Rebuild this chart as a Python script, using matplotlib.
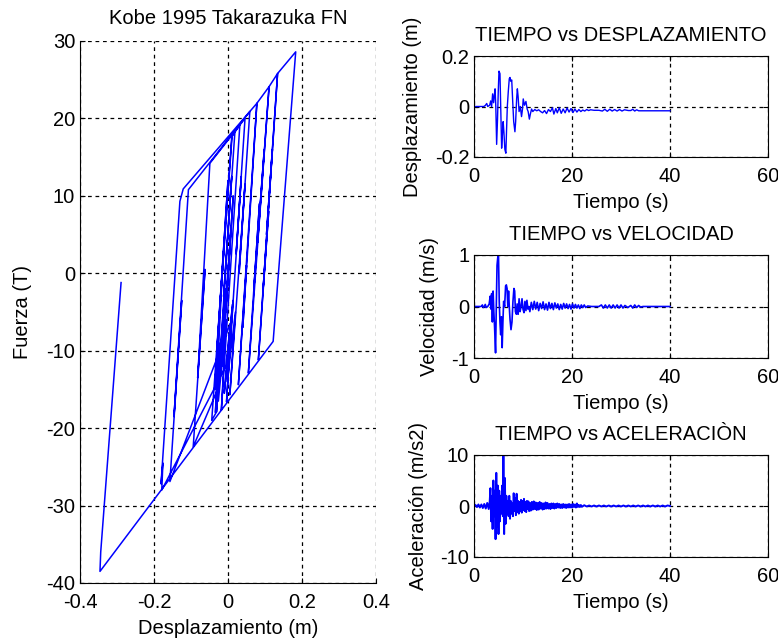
import numpy as np
import matplotlib
matplotlib.use("Agg")
import matplotlib.pyplot as plt

# hysteresis vertices (m, T)
hyst_x = [0.000, 0.008, -0.006, 0.014, -0.016, 0.006, -0.031, -0.044, 0.010, 0.019,
          -0.012, 0.010, -0.031, -0.025, -0.034, -0.015, -0.036, -0.010, -0.030, 0.000,
          -0.020, 0.011, 0.032, -0.018, -0.005, -0.026, -0.008, -0.028, -0.094, -0.062,
          -0.082, -0.049, 0.046, 0.022, 0.036, -0.004, 0.012, -0.010, 0.006, -0.157,
          -0.125, -0.146, -0.107, 0.059, 0.030, 0.046, 0.005, 0.020, -0.002, 0.014,
          -0.006, -0.179, -0.176, -0.181, -0.130, -0.121, 0.078, 0.028, 0.050, 0.040,
          0.078, 0.111, 0.055, 0.085, 0.070, 0.098, 0.080, 0.111, 0.134, 0.082,
          0.110, 0.095, 0.120, 0.104, 0.134, 0.183, 0.122, -0.346, -0.344, -0.289]
hyst_y = [0.0, 6.0, -5.0, 10.0, -12.0, 4.0, -17.9, -19.0, 17.6, 18.5,
          -3.0, 12.5, -17.9, -9.0, -18.0, 0.5, -15.0, 4.0, -10.0, 12.0,
          -3.0, 17.7, 19.15, -17.7, -6.0, -16.5, -2.0, -15.0, -22.4, 0.5,
          -13.5, 14.2, 20.0, 2.5, 12.5, -16.6, -4.0, -15.5, -6.5, -26.9,
          -3.5, -18.5, 10.8, 20.9, 0.0, 11.5, -15.7, -5.0, -14.0, -3.5,
          -12.0, -28.0, -24.5, -27.2, 9.3, 10.9, 21.95, -14.4, 1.0, -7.0,
          21.95, 24.1, -12.9, 9.0, -2.0, 16.0, 4.0, 24.1, 25.8, -11.2,
          8.0, -2.0, 16.0, 5.0, 25.8, 28.6, -8.8, -38.5, -36.0, -1.2]

# displacement (m) vs time (s)
t_disp = [0, 2.0, 2.3, 2.6, 2.8, 3.2, 3.4, 3.6, 3.8, 4.0, 4.15, 4.3, 4.45, 4.62, 4.8,
          4.95, 5.1, 5.3, 5.45, 5.64, 5.8, 5.95, 6.1, 6.3, 6.5, 6.65, 6.8, 7.0, 7.2,
          7.35, 7.5, 7.7, 7.9, 8.1, 8.35, 8.5, 8.7, 8.85, 9.0, 9.2, 9.45, 9.7, 9.9,
          10.05, 10.3, 10.6, 10.85, 11.05, 11.3, 11.5, 11.75, 12.0, 12.4, 12.8, 13.2,
          13.6, 14.0, 14.4, 14.8, 15.2, 15.6, 16.0, 16.3, 16.7, 17.0, 17.4, 17.8,
          18.2, 18.6, 19.0, 19.4, 19.8, 20.2, 20.6, 21.0, 21.4, 21.8, 22.2, 22.6,
          23.0, 23.4, 23.8, 24.5, 25.5, 26.2, 26.7, 27.2, 27.7, 28.2, 28.7, 29.2,
          29.7, 30.2, 30.7, 31.5, 32.0, 32.4, 32.8, 33.2, 33.6, 34.5, 40.0]
disp = [0, 0, 0.004, 0.012, 0.0, 0.005, 0.022, 0.0, 0.05, 0.015, 0.045, 0.07, 0.0, -0.15, -0.05,
        0.06, 0.14, 0.13, 0.0, -0.165, -0.11, -0.06, -0.10, -0.17, -0.185, -0.09, 0.0, 0.06, 0.11,
        0.115, 0.10, 0.105, 0.02, -0.06, -0.10, -0.06, 0.03, 0.07, 0.04, -0.02, 0.0, -0.04, -0.01,
        0.03, 0.005, 0.02, -0.01, -0.02, -0.05, -0.03, -0.01, -0.02, -0.012, -0.017, -0.013,
        -0.02, -0.025, -0.016, -0.028, -0.012, -0.02, -0.005, -0.03, -0.008, -0.025, -0.005, -0.027,
        -0.01, -0.025, -0.006, -0.022, -0.008, -0.024, -0.01, -0.022, -0.012, -0.02, -0.014, -0.018,
        -0.012, -0.016, -0.013, -0.015, -0.015, -0.018, -0.011, -0.019, -0.011, -0.018, -0.012, -0.018,
        -0.012, -0.018, -0.013, -0.016, -0.016, -0.011, -0.018, -0.013, -0.017, -0.017, -0.017]

# velocity (m/s)
t_vel = [0, 1.5, 1.7, 1.9, 2.1, 2.3, 2.5, 2.8, 3.1, 3.3, 3.45, 3.6, 3.75, 3.9, 4.05, 4.2,
         4.4, 4.55, 4.7, 4.85, 5.0, 5.15, 5.3, 5.45, 5.6, 5.75, 5.9, 6.05, 6.25, 6.45, 6.6,
         6.75, 6.9, 7.05, 7.2, 7.35, 7.55, 7.75, 7.95, 8.15, 8.3, 8.45, 8.65, 8.8, 9.0, 9.2,
         9.4, 9.6, 9.8, 10.0, 10.2, 10.4, 10.6, 10.8, 11.0, 11.2, 11.4, 11.7, 12.0, 12.3,
         12.6, 12.9, 13.2, 13.5, 13.8, 14.1, 14.4, 14.7, 15.0, 15.3, 15.6, 15.9, 16.2, 16.5,
         16.8, 17.1, 17.4, 17.7, 18.0, 18.3, 18.6, 18.9, 19.2, 19.5, 19.8, 20.1, 20.4, 20.7,
         21.0, 21.3, 21.6, 21.9, 22.2, 22.5, 22.8, 23.2, 24.0, 25.5, 26.0, 26.4, 26.8, 27.2,
         27.6, 28.0, 28.4, 28.8, 29.2, 29.6, 30.0, 30.4, 30.8, 31.4, 32.0, 32.4, 32.8, 33.2,
         33.6, 34.0, 34.5, 40.0]
vel = [0, 0, 0.03, -0.02, 0.0, 0.04, -0.02, 0.0, 0.05, 0.2, -0.05, 0.25, -0.3, 0.3, -0.1, -0.4,
       -0.9, 0.0, 0.8, 0.95, 1.0, 0.1, -0.3, -0.55, -0.2, -0.8, -0.3, 0.1, 0.0, 0.4, 0.42,
       0.35, 0.0, 0.3, 0.0, -0.25, -0.45, -0.3, 0.1, 0.35, 0.3, -0.1, -0.15, 0.05, -0.15, 0.15,
       -0.1, 0.0, 0.15, -0.05, -0.12, 0.1, -0.08, 0.12, -0.05, 0.0, -0.1, 0.08, -0.06, 0.1,
       -0.05, 0.08, -0.08, 0.06, -0.04, 0.09, -0.06, 0.05, -0.07, 0.08, -0.04, 0.06, -0.06, 0.07,
       -0.03, 0.05, -0.06, 0.04, -0.05, 0.06, -0.03, 0.05, -0.04, 0.04, -0.05, 0.05, -0.03, 0.04,
       -0.03, 0.03, -0.04, 0.03, -0.02, 0.03, -0.02, 0.01, 0.0, 0.0, 0.03, -0.03, 0.03, -0.03,
       0.03, -0.03, 0.03, -0.03, 0.03, -0.03, 0.03, -0.03, 0.02, -0.02, 0.02, -0.03, 0.03, -0.02,
       0.02, -0.01, 0.0, 0.0]

# acceleration (m/s2)
t_acc = [0, 0.3, 0.6, 0.9, 1.2, 1.5, 1.8, 2.1, 2.4, 2.7, 3.0, 3.2, 3.35, 3.5, 3.65, 3.8, 3.95,
         4.1, 4.25, 4.4, 4.55, 4.7, 4.85, 5.0, 5.15, 5.3, 5.45, 5.6, 5.75, 5.9, 6.0, 6.15, 6.3,
         6.45, 6.6, 6.75, 6.9, 7.05, 7.2, 7.35, 7.5, 7.65, 7.8, 7.95, 8.1, 8.25, 8.4, 8.55, 8.7,
         8.85, 9.0, 9.15, 9.3, 9.45, 9.6, 9.75, 9.9, 10.05, 10.2, 10.35, 10.5, 10.65, 10.8, 10.95,
         11.1, 11.25, 11.4, 11.6, 11.8, 12.0, 12.2, 12.4, 12.6, 12.8, 13.0, 13.2, 13.4, 13.6,
         13.8, 14.0, 14.2, 14.4, 14.6, 14.8, 15.0, 15.2, 15.4, 15.6, 15.8, 16.0, 16.2, 16.4,
         16.6, 16.8, 17.0, 17.2, 17.4, 17.6, 17.8, 18.0, 18.2, 18.4, 18.6, 18.8, 19.0, 19.2,
         19.4, 19.6, 19.8, 20.0, 20.2, 20.4, 20.6, 20.8, 21.0, 21.2, 21.4, 21.6, 21.8, 22.0,
         22.5, 23.0, 23.5, 24.0, 24.5, 25.0, 25.5, 26.0, 26.5, 27.0, 27.5, 28.0, 28.5, 29.0,
         29.5, 30.0, 30.5, 31.0, 31.5, 32.0, 32.5, 33.0, 33.5, 34.0, 34.5, 35.0, 35.5, 36.0,
         36.5, 37.0, 37.5, 38.0, 38.5, 39.0, 39.5, 40.0]
acc = [0, 0.2, -0.2, 0.3, -0.3, 0.3, -0.4, 0.4, -0.5, 0.6, -0.6, 0.8, 3.5, -3.0, 2.0, -4.5, 5.0,
       -2.0, 3.0, -6.5, 6.5, -4.0, 4.0, -5.5, 3.0, -3.0, 2.0, -1.5, 4.0, -2.0, 9.8, -5.5, 5.5,
       -3.5, 2.0, -1.5, 1.0, -2.0, 2.0, -2.5, 1.0, -1.5, 0.5, -2.0, 2.5, -1.0, 1.5, -1.8, 2.4,
       -1.2, 1.0, -1.5, 0.8, -1.0, 1.2, -1.3, 1.0, -0.8, 1.4, -1.0, 0.8, -1.2, 1.0, -0.6,
       0.9, -1.0, 0.6, -0.9, 0.8, -0.7, 0.9, -0.6, 0.7, -0.8, 0.6, -0.7, 0.8, -0.5,
       0.6, -0.7, 0.5, -0.6, 0.7, -0.5, 0.6, -0.5, 0.4, -0.6, 0.5, -0.4, 0.5, -0.5,
       0.4, -0.4, 0.5, -0.3, 0.4, -0.4, 0.3, -0.4, 0.4, -0.3, 0.3, -0.4, 0.3, -0.3,
       0.4, -0.3, 0.3, -0.3, 0.4, -0.2, 0.3, -0.3, 0.5, -0.2, 0.2, -0.2, 0.2, -0.15,
       0.15, -0.1, 0.1, -0.1, 0.1, -0.1, 0.1, -0.1, 0.1, -0.1, 0.1, -0.1, 0.1, -0.1,
       0.1, -0.1, 0.1, -0.1, 0.1, -0.1, 0.1, -0.1, 0.1, -0.1, 0.1, -0.1, 0.1, -0.1,
       0.1, -0.1, 0.1, -0.1, 0.1, -0.1, 0.1, 0.0]

plt.rcParams['font.family'] = ['Liberation Sans', 'DejaVu Sans']
plt.rcParams['font.size'] = 14.5
plt.rcParams['axes.titlesize'] = 14.5
plt.rcParams['axes.unicode_minus'] = False
plt.rcParams['xtick.direction'] = 'in'
plt.rcParams['ytick.direction'] = 'in'
plt.rcParams['xtick.major.pad'] = 7

W, H = 778, 642
fig = plt.figure(figsize=(W / 100, H / 100), dpi=100)


def box(x0, y0, x1, y1):
    # pixel box (top-left origin) -> figure fraction
    return [x0 / W, 1 - y1 / H, (x1 - x0) / W, (y1 - y0) / H]


grid_kw = dict(color='k', linestyle=(0, (3, 3)), linewidth=0.9)

# hysteresis loop
ax = fig.add_axes(box(80, 41, 376, 583))
ax.plot(hyst_x, hyst_y, color='b', linewidth=1.1)
ax.set_xlim(-0.4, 0.4)
ax.set_ylim(-40, 30)
ax.set_xticks([-0.4, -0.2, 0, 0.2, 0.4])
ax.set_xticklabels(['-0.4', '-0.2', '0', '0.2', '0.4'])
ax.set_yticks(np.arange(-40, 31, 10))
ax.grid(True, **grid_kw)
ax.spines['top'].set_visible(False)
ax.spines['right'].set_visible(False)
ax.set_xlabel('Desplazamiento (m)', labelpad=5)
ax.set_ylabel('Fuerza (T)', labelpad=10)
ax.set_title('Kobe 1995 Takarazuka FN', pad=12)

panels = [
    (box(474, 56, 768, 157), t_disp, disp, 0.2, 'Desplazamiento (m)',
     'TIEMPO vs DESPLAZAMIENTO', 1.0),
    (box(474, 255, 768, 358), t_vel, vel, 1, 'Velocidad (m/s)',
     'TIEMPO vs VELOCIDAD', 1.2),
    (box(474, 455, 768, 557), t_acc, acc, 10, 'Aceleración (m/s2)',
     'TIEMPO vs ACELERACIÒN', 1.4),
]
for rect, t, y, lim, ylab, title, lw in panels:
    a = fig.add_axes(rect)
    a.plot(t, y, color='b', linewidth=lw)
    a.set_xlim(0, 60)
    a.set_ylim(-lim, lim)
    a.set_xticks([0, 20, 40, 60])
    a.set_yticks([-lim, 0, lim])
    a.set_yticklabels(['%g' % v for v in [-lim, 0, lim]])
    a.tick_params(top=True, right=True)
    a.grid(True, **grid_kw)
    a.set_xlabel('Tiempo (s)', labelpad=5)
    a.set_ylabel(ylab, labelpad=9)
    a.set_title(title, pad=11)

fig.savefig('out.png', dpi=100)
